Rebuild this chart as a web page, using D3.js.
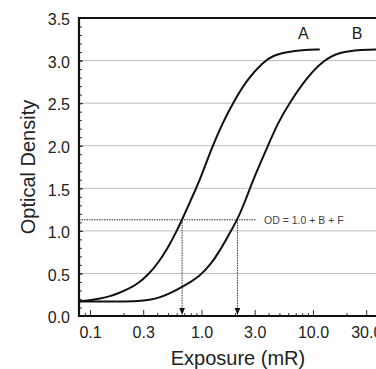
<!DOCTYPE html>
<html><head><meta charset="utf-8">
<script src="https://cdn.jsdelivr.net/npm/d3@7/dist/d3.min.js"></script>
<style>
html,body{margin:0;padding:0;background:#fff;}
svg{display:block;font-family:"Liberation Sans",Arial,sans-serif;}
</style></head>
<body>
<svg id="chart" width="376" height="369"></svg>
<script>
// ---- data ----
const curveAExposure = [0.078, 0.1, 0.118, 0.15, 0.178, 0.22, 0.269, 0.336, 0.407, 0.5, 0.595, 0.67, 0.8, 0.97, 1.24, 1.55, 1.91, 2.57, 3.56, 4.36, 5.85, 7.95, 11.5];
const curveAOD       = [0.17, 0.185, 0.2, 0.23, 0.265, 0.315, 0.38, 0.49, 0.62, 0.8, 0.99, 1.13, 1.36, 1.6, 1.98, 2.27, 2.5, 2.78, 2.98, 3.06, 3.1, 3.125, 3.13];
const curveBExposure = [0.078, 0.2, 0.269, 0.345, 0.407, 0.52, 0.687, 0.97, 1.2, 1.45, 1.75, 2.1, 2.5, 2.9, 3.86, 4.8, 6.2, 8.8, 12.3, 17.3, 27.2, 40];
const curveBOD       = [0.17, 0.17, 0.175, 0.19, 0.21, 0.265, 0.345, 0.47, 0.6, 0.76, 0.95, 1.13, 1.37, 1.6, 1.97, 2.26, 2.51, 2.8, 3.0, 3.1, 3.13, 3.13];
const curveLabels = ["A", "B"];
const curveLabelExposure = [8.2, 24.8];
const curveLabelOD = [3.25, 3.25];
const xTickValues = [0.1, 0.3, 1, 3, 10, 30];
const xTickLabels = ["0.1", "0.3", "1.0", "3.0", "10.0", "30.0"];
const xMinorTicks = [0.09, 0.2, 0.4, 0.5, 0.6, 0.7, 0.8, 0.9, 2, 4, 5, 6, 7, 8, 9, 20];
const yTickValues = [0, 0.5, 1.0, 1.5, 2.0, 2.5, 3.0, 3.5];
const yTickLabels = ["0.0", "0.5", "1.0", "1.5", "2.0", "2.5", "3.0", "3.5"];
const yGridValues = [0.5, 1.0, 1.5, 2.0, 2.5, 3.0];
const yMinorTicks = d3.range(1, 35).map(i => i / 10);
const odLevel = 1.13;
const odExposures = [0.67, 2.1];
const odLineEnd = 3.08;
const odLabel = "OD = 1.0 + B + F";
const xTitle = "Exposure (mR)";
const yTitle = "Optical Density";

// ---- layout ----
const svg = d3.select("#chart");
const mLeft = 79, mRight = 376, mTop = 18, mBottom = 316;
const x = d3.scaleLog().domain([0.1, 10]).range([90, 313]);
const y = d3.scaleLinear().domain([0, 3.5]).range([mBottom, mTop]);

svg.append("defs").append("clipPath").attr("id", "plot")
  .append("rect").attr("x", mLeft).attr("y", mTop - 2).attr("width", mRight - mLeft).attr("height", mBottom - mTop + 2);

// grid
svg.append("g").selectAll("line").data(yGridValues).join("line")
  .attr("x1", mLeft).attr("x2", mRight).attr("y1", d => y(d)).attr("y2", d => y(d))
  .attr("stroke", "#bdbdbd").attr("stroke-width", 1);

// y axis ticks
const yAxis = d3.axisLeft(y).tickValues(yTickValues).tickSize(-4).tickPadding(9)
  .tickFormat((d, i) => yTickLabels[i]);
const gy = svg.append("g").attr("transform", `translate(${mLeft},0)`).call(yAxis);
gy.select(".domain").remove();
gy.selectAll("text").attr("font-size", 16).attr("fill", "#222").attr("dy", "0.42em")
  .attr("font-family", "Liberation Sans, Arial, sans-serif");
gy.selectAll("line").attr("stroke", "#222");
const gyMinor = svg.append("g").attr("transform", `translate(${mLeft},0)`)
  .call(d3.axisLeft(y).tickValues(yMinorTicks).tickSize(-3).tickFormat(""));
gyMinor.select(".domain").remove();
gyMinor.selectAll("line").attr("stroke", "#333");

// x axis ticks
const xAxis = d3.axisBottom(x).tickValues(xTickValues).tickSize(-6).tickPadding(11)
  .tickFormat((d, i) => xTickLabels[i]);
const gx = svg.append("g").attr("transform", `translate(0,${mBottom})`).call(xAxis);
gx.select(".domain").remove();
gx.selectAll("text").attr("font-size", 16).attr("fill", "#222")
  .attr("font-family", "Liberation Sans, Arial, sans-serif");
gx.selectAll("line").attr("stroke", "#333");
const gxMinor = svg.append("g").attr("transform", `translate(0,${mBottom})`)
  .call(d3.axisBottom(x).tickValues(xMinorTicks).tickSize(-3).tickFormat(""));
gxMinor.select(".domain").remove();
gxMinor.selectAll("line").attr("stroke", "#333");

// frame
svg.append("line").attr("x1", mLeft).attr("x2", mRight).attr("y1", mTop).attr("y2", mTop)
  .attr("stroke", "#111").attr("stroke-width", 2);
svg.append("line").attr("x1", mLeft).attr("x2", mLeft).attr("y1", mTop - 1).attr("y2", mBottom + 1)
  .attr("stroke", "#111").attr("stroke-width", 2.2);
svg.append("line").attr("x1", mLeft).attr("x2", mRight).attr("y1", mBottom).attr("y2", mBottom)
  .attr("stroke", "#111").attr("stroke-width", 2.2);

// dotted reference lines
const dotted = svg.append("g").attr("stroke", "#333").attr("stroke-width", 1).attr("stroke-dasharray", "1.5,1");
dotted.append("line").attr("x1", mLeft).attr("x2", x(odLineEnd))
  .attr("y1", y(odLevel)).attr("y2", y(odLevel));
odExposures.forEach(e => {
  dotted.append("line").attr("x1", x(e)).attr("x2", x(e))
    .attr("y1", y(odLevel)).attr("y2", y(0) - 7);
  svg.append("path")
    .attr("d", `M${x(e) - 2.8},${y(0) - 8}L${x(e) + 2.8},${y(0) - 8}L${x(e)},${y(0) - 1}Z`)
    .attr("fill", "#111");
});
svg.append("text").attr("x", x(odLineEnd) + 8).attr("y", y(odLevel) + 4)
  .attr("font-size", 10.5).attr("fill", "#444").text(odLabel);

// curves
const line = d3.line().x(d => x(d[0])).y(d => y(d[1])).curve(d3.curveBasis);
const curves = [
  d3.zip(curveAExposure, curveAOD),
  d3.zip(curveBExposure, curveBOD)
];
svg.append("g").attr("clip-path", "url(#plot)").selectAll("path").data(curves).join("path")
  .attr("d", line).attr("fill", "none").attr("stroke", "#111").attr("stroke-width", 2);

svg.append("g").selectAll("text").data(curveLabels).join("text")
  .attr("x", (d, i) => x(curveLabelExposure[i])).attr("y", (d, i) => y(curveLabelOD[i]))
  .attr("text-anchor", "middle").attr("font-size", 16).attr("fill", "#222").text(d => d);

// titles
svg.append("text").attr("x", 238).attr("y", 365).attr("text-anchor", "middle")
  .attr("font-size", 20).attr("fill", "#222").text(xTitle);
svg.append("text").attr("transform", "translate(35,167) rotate(-90)").attr("text-anchor", "middle")
  .attr("font-size", 20).attr("fill", "#222").text(yTitle);
</script>
</body></html>
